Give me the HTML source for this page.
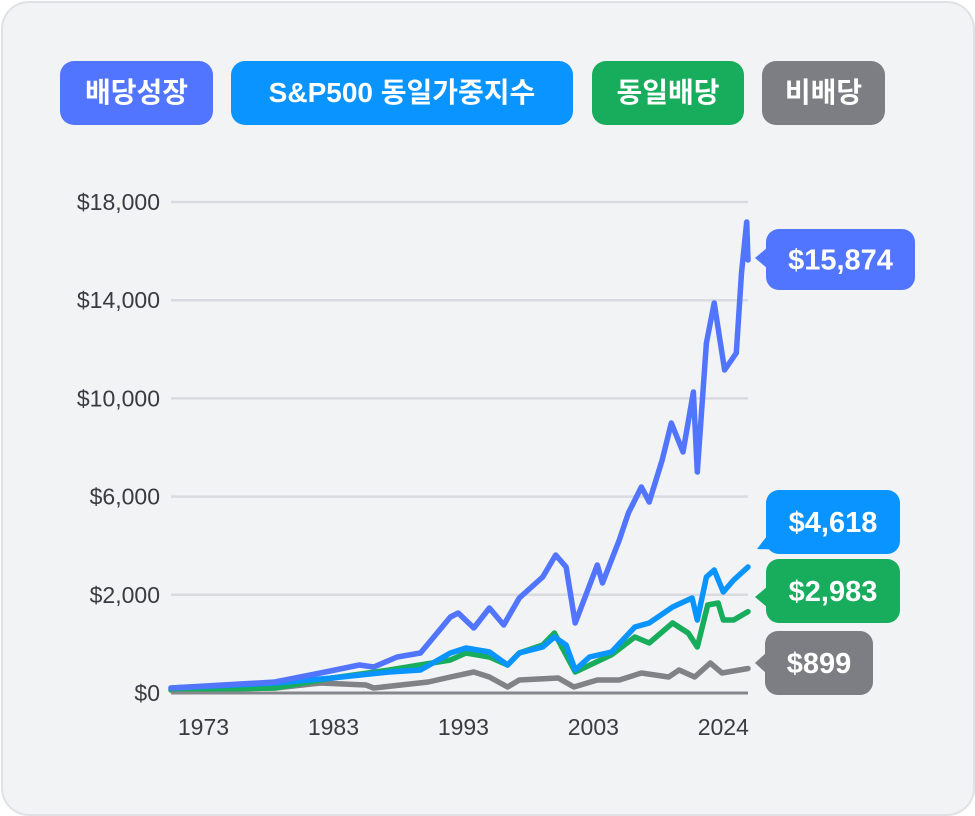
<!DOCTYPE html>
<html><head><meta charset="utf-8">
<style>
html,body{margin:0;padding:0;background:#fff;}
body{width:975px;height:816px;overflow:hidden;font-family:"Liberation Sans","Noto Sans CJK KR",sans-serif;}
.card{position:absolute;left:1px;top:1px;width:970px;height:811px;background:#f2f3f5;border:2px solid #dfe1e5;border-radius:28px;}
.pill{position:absolute;top:61px;height:64px;border-radius:14px;color:#fff;font-weight:bold;font-size:28px;line-height:64px;text-align:center;white-space:nowrap;}
</style></head>
<body>
<div class="card"></div>
<div class="pill" style="left:60px;width:153px;background:#5275ff">배당성장</div>
<div class="pill" style="left:231px;width:342px;background:#0a94ff">S&amp;P500 동일가중지수</div>
<div class="pill" style="left:592px;width:152px;background:#18ad5c">동일배당</div>
<div class="pill" style="left:762px;width:123px;background:#7d7e83">비배당</div>
<svg id="chart" width="975" height="816" style="position:absolute;left:0;top:0"></svg>
<script>
const yTickValues=[0,3600,7200,10800,14400,18000];
const yTickLabels=["$0","$2,000","$6,000","$10,000","$14,000","$18,000"];
const xTickValues=[1973,1983,1993,2003,2013];
const xTickLabels=["1973","1983","1993","2003","2024"];
const growthYears=[1970.5,1978.5,1982.0,1985.0,1986.1,1987.9,1989.7,1992.0,1992.6,1993.8,1995.0,1996.1,1997.3,1999.1,2000.1,2000.9,2001.6,2003.3,2003.7,2005.0,2005.7,2006.7,2007.3,2008.3,2009.0,2009.9,2010.7,2011.0,2011.7,2012.3,2013.1,2014.0,2014.4,2014.8,2014.9];
const growthValues=[183,403,733,1026,953,1320,1466,2786,2933,2383,3116,2493,3483,4253,5059,4619,2566,4692,4033,5609,6599,7552,7002,8542,9898,8835,11035,8102,12831,14297,11841,12464,15397,17267,15874];
const ewYears=[1970.5,1978.5,1982.9,1987.3,1989.7,1992.0,1993.2,1995.0,1996.4,1997.3,1999.1,2000.0,2000.9,2001.6,2002.7,2004.4,2006.2,2007.3,2009.1,2010.6,2011.0,2011.7,2012.3,2013.0,2013.8,2014.9];
const ewValues=[183,367,550,770,843,1466,1650,1503,1026,1466,1686,2053,1760,843,1320,1503,2420,2566,3153,3483,2676,4253,4509,3703,4143,4618];
const eqdivYears=[1970.5,1978.5,1982.9,1987.3,1992.0,1993.2,1995.0,1996.4,1997.3,1999.1,2000.0,2001.6,2004.4,2006.2,2007.3,2009.1,2010.3,2011.0,2011.8,2012.6,2013.0,2013.8,2014.9];
const eqdivValues=[110,183,550,843,1210,1466,1320,1026,1466,1760,2200,770,1400,2053,1833,2566,2200,1686,3226,3299,2676,2676,2983];
const nondivYears=[1970.5,1978.5,1982.0,1985.5,1986.1,1990.3,1992.0,1993.8,1995.0,1996.4,1997.3,2000.3,2001.5,2003.3,2005.0,2006.7,2008.8,2009.6,2010.8,2012.0,2012.9,2014.9];
const nondivValues=[110,183,367,293,183,403,587,770,587,220,477,550,220,477,477,733,587,843,587,1100,733,899];
const endLabels=["$15,874","$4,618","$2,983","$899"];

const svg=document.getElementById('chart');
const NS='http://www.w3.org/2000/svg';
const X0=171,X1=748,Y0=693,Y1=202,YR0=1970.5,YR1=2014.9,VMAX=18000;
function xs(yr){return X0+(yr-YR0)/(YR1-YR0)*(X1-X0);}
function ys(v){return Y0-v/VMAX*(Y0-Y1);}
function mk(tag,attrs){const e=document.createElementNS(NS,tag);for(const k in attrs)e.setAttribute(k,attrs[k]);svg.appendChild(e);return e;}

yTickValues.forEach((v,i)=>{
  if(i>0){const g=mk('line',{x1:X0,x2:X1,y1:ys(v),y2:ys(v),stroke:'#dadbe0','stroke-width':2.5});
  
  }
  const t=mk('text',{x:160,y:ys(v)+8,'text-anchor':'end','font-size':23,fill:'#3a3b40','font-family':'Liberation Sans, sans-serif'});
  t.textContent=yTickLabels[i];
  
  
});
xTickValues.forEach((v,i)=>{
  const t=mk('text',{x:xs(v),y:735,'text-anchor':'middle','font-size':23,fill:'#3a3b40','font-family':'Liberation Sans, sans-serif'});
  t.textContent=xTickLabels[i];
  
  
});
const series=[
 [nondivYears,nondivValues,'#818286','line-non-dividend'],
 [eqdivYears,eqdivValues,'#18ad5c','line-equal-dividend'],
 [ewYears,ewValues,'#0a94ff','line-sp500-equal-weight'],
 [growthYears,growthValues,'#5275ff','line-dividend-growth']
];
series.forEach(s=>{
  const d=s[0].map((yr,i)=>(i?'L':'M')+xs(yr).toFixed(1)+','+ys(s[1][i]).toFixed(1)).join('');
  const p=mk('path',{d:d,fill:'none',stroke:s[2],'stroke-width':5.5,'stroke-linejoin':'round','stroke-linecap':'round'});
  
  
});
const ax=mk('line',{x1:X0,x2:X1,y1:Y0,y2:Y0,stroke:'#86878c','stroke-width':3});



const badges=[
 [766,229,149,61,'#5275ff',755,258,'end-label-dividend-growth'],
 [766,490,134,64,'#0a94ff',757,549,'end-label-sp500-equal-weight'],
 [766,559,134,64,'#18ad5c',755,597,'end-label-equal-dividend'],
 [765,631,108,64,'#7d7e83',755,663,'end-label-non-dividend']
];
badges.forEach((b,i)=>{
  const g=document.createElementNS(NS,'g');svg.appendChild(g);
  
  
  const r=document.createElementNS(NS,'rect');
  r.setAttribute('x',b[0]);r.setAttribute('y',b[1]);r.setAttribute('width',b[2]);r.setAttribute('height',b[3]);r.setAttribute('rx',13);r.setAttribute('fill',b[4]);g.appendChild(r);
  const tri=document.createElementNS(NS,'polygon');
  let pts;
  if(i===1)pts=`${b[5]},${b[6]} ${b[0]+4},${b[1]+b[3]-22} ${b[0]+22},${b[1]+b[3]-4}`;
  else pts=`${b[5]},${b[6]} ${b[0]+2},${b[6]-11} ${b[0]+2},${b[6]+11}`;
  tri.setAttribute('points',pts);tri.setAttribute('fill',b[4]);g.appendChild(tri);
  const t=document.createElementNS(NS,'text');
  t.setAttribute('x',b[0]+b[2]/2);t.setAttribute('y',b[1]+b[3]/2+10);
  t.setAttribute('text-anchor','middle');t.setAttribute('font-size',29);t.setAttribute('font-weight','bold');
  t.setAttribute('fill','#fff');t.setAttribute('font-family','Liberation Sans, sans-serif');
  t.textContent=endLabels[i];g.appendChild(t);
});
</script>
</body></html>
